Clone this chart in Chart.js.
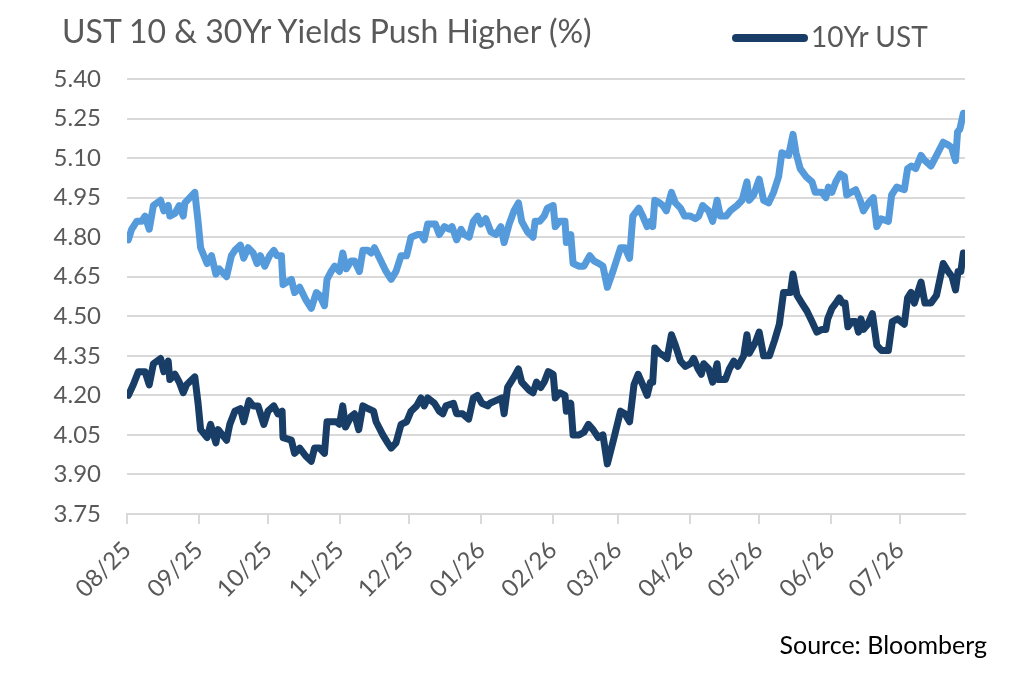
<!DOCTYPE html>
<html>
<head>
<meta charset="utf-8">
<script src="https://cdn.jsdelivr.net/npm/chart.js@4.4.1/dist/chart.umd.min.js"></script>
<style>
  body { margin: 0; background: #fff; }
  #wrap { position: relative; width: 1024px; height: 679px; overflow: hidden; font-family: Lato, "Open Sans", sans-serif; }
  #chart { position: absolute; left: 0; top: 0; }
  #title { position: absolute; left: 62px; top: 15px; font-size: 32px; line-height: 1; color: #595959; white-space: nowrap; }
  #swatch { position: absolute; left: 732px; top: 34px; width: 76px; height: 8px; border-radius: 4px; background: #183d66; }
  #legendText { position: absolute; left: 811px; top: 22px; font-size: 28px; line-height: 1; color: #595959; white-space: nowrap; }
  #source { position: absolute; right: 37px; top: 632px; font-size: 25px; line-height: 1; color: #000; white-space: nowrap; }
</style>
</head>
<body>
<div id="wrap">
  <canvas id="chart" width="1024" height="679"></canvas>
  <div id="title">UST 10 &amp; 30Yr Yields Push Higher (%)</div>
  <div id="swatch"></div>
  <div id="legendText">10Yr UST</div>
  <div id="source">Source: Bloomberg</div>
</div>
<script>
// x values are days since 1 Aug 2025
const monthLabels = ['08/25', '09/25', '10/25', '11/25', '12/25', '01/26', '02/26', '03/26', '04/26', '05/26', '06/26', '07/26'];
const monthDays = [0, 31, 61, 92, 122, 153, 184, 212, 243, 273, 304, 334];
const yTicks = [3.75, 3.90, 4.05, 4.20, 4.35, 4.50, 4.65, 4.80, 4.95, 5.10, 5.25, 5.40];

// 30Yr UST
const days30 = [0.6, 2.0, 4.2, 6.3, 7.8, 9.6, 11.4, 14.5, 15.9, 17.8, 18.5, 20.7, 22.6, 24.3, 25.0, 29.3, 30.7, 31.8, 34.6, 36.5,
  38.4, 39.8, 43.0, 45.1, 46.6, 49.0, 50.4, 52.3, 54.5, 56.2, 57.6, 59.5, 61.6, 63.4, 64.8, 66.7, 67.4, 71.0, 72.4, 74.6,
  77.4, 79.6, 81.8, 83.2, 85.3, 86.4, 88.2,
  89.7, 91.8, 93.2, 94.7, 96.8, 98.3, 100.4, 101.9, 104.0, 105.5, 106.9, 109.1, 111.9, 114.1, 116.2, 118.4, 120.8, 122.7, 125.6, 127.0,
  128.4, 129.9, 133.2, 134.9, 137.1, 139.2, 140.4, 142.4, 144.3, 145.7, 147.8, 149.6, 151.4, 152.9, 155.0, 157.2, 159.3, 161.5, 162.9, 165.1,
  167.2, 169.1, 170.5, 173.0, 175.4, 176.3, 178.3,
  180.2, 181.6, 184.1, 185.0, 186.9, 189.2, 189.8, 191.7, 192.7, 195.3, 197.4, 199.9, 201.7, 203.9, 205.6, 207.5, 209.9, 213.2, 215.1, 217.1,
  218.5, 221.1, 222.8, 224.7, 226.1, 227.1, 228.0, 230.0, 231.5, 233.0, 235.2, 236.9, 239.1, 240.9, 243.4, 245.5, 247.0, 248.7, 251.3, 253.0,
  254.9, 256.3, 258.8, 260.6, 263.5, 265.7, 267.8, 268.8,
  270.7, 273.1, 275.0, 277.2, 279.3, 281.5, 282.9, 285.8, 287.7, 289.0, 290.8, 293.3, 295.9, 297.3, 300.2, 301.9, 303.0, 304.5, 306.2, 308.1,
  309.9, 310.9, 312.8, 314.8, 316.7, 318.1, 320.3, 322.4, 323.9, 325.7, 328.9, 330.3, 332.5, 335.8, 337.2, 338.9, 340.7, 343.0, 344.7, 347.3,
  349.7, 352.6, 354.7, 356.2, 357.9, 358.8, 359.8, 361.3];
const y30 = [4.79, 4.83, 4.86, 4.86, 4.88, 4.83, 4.92, 4.94, 4.90, 4.92, 4.88, 4.89, 4.92, 4.88, 4.93, 4.97, 4.86, 4.76, 4.70, 4.73,
  4.66, 4.68, 4.65, 4.73, 4.75, 4.77, 4.72, 4.76, 4.74, 4.70, 4.73, 4.69, 4.73, 4.75, 4.73, 4.73, 4.62, 4.64, 4.59, 4.61,
  4.56, 4.53, 4.59, 4.58, 4.54, 4.64, 4.67,
  4.69, 4.67, 4.74, 4.68, 4.71, 4.71, 4.67, 4.75, 4.75, 4.74, 4.76, 4.72, 4.67, 4.64, 4.67, 4.73, 4.73, 4.80, 4.81, 4.81,
  4.79, 4.85, 4.85, 4.81, 4.84, 4.83, 4.84, 4.79, 4.83, 4.81, 4.80, 4.86, 4.88, 4.85, 4.87, 4.82, 4.81, 4.84, 4.78, 4.85,
  4.90, 4.93, 4.86, 4.82, 4.80, 4.86, 4.86,
  4.88, 4.91, 4.92, 4.84, 4.86, 4.86, 4.78, 4.81, 4.70, 4.69, 4.69, 4.73, 4.71, 4.70, 4.69, 4.61, 4.67, 4.76, 4.76, 4.72,
  4.88, 4.91, 4.88, 4.84, 4.86, 4.84, 4.94, 4.93, 4.92, 4.90, 4.97, 4.93, 4.91, 4.88, 4.88, 4.87, 4.88, 4.92, 4.90, 4.86,
  4.94, 4.88, 4.88, 4.90, 4.92, 4.94, 5.01, 4.94,
  4.96, 5.02, 4.94, 4.93, 4.97, 5.03, 5.12, 5.11, 5.19, 5.12, 5.06, 5.03, 5.01, 4.97, 4.97, 4.95, 4.99, 4.97, 5.01, 5.04,
  5.03, 4.96, 4.97, 4.98, 4.94, 4.90, 4.93, 4.95, 4.84, 4.87, 4.86, 4.96, 4.99, 4.98, 5.06, 5.07, 5.06, 5.11, 5.09, 5.07,
  5.11, 5.16, 5.15, 5.14, 5.09, 5.20, 5.21, 5.27];

// 10Yr UST
const days10 = [0.6, 2.7, 4.9, 7.8, 9.6, 11.4, 14.5, 15.9, 17.8, 18.5, 20.7, 22.6, 24.3, 25.7, 29.3, 30.7, 31.8, 34.6, 36.1, 38.4,
  39.4, 43.0, 44.4, 46.6, 49.0, 50.4, 52.7, 54.5, 56.6, 59.1, 60.9, 63.4, 65.2, 67.0, 67.4, 71.0, 72.4, 74.6, 77.2, 79.6,
  81.0, 83.2, 85.3, 86.4, 88.9,
  90.4, 91.8, 93.2, 94.4, 96.8, 98.3, 100.1, 101.9, 104.0, 106.5, 107.6, 110.5, 112.6, 114.1, 116.2, 118.4, 120.8, 122.7, 125.1, 127.0,
  128.4, 129.9, 132.8, 134.9, 136.4, 137.8, 141.0, 142.4, 145.0, 147.6, 149.6, 151.4, 153.3, 155.8, 156.8, 159.3, 161.9, 162.9, 164.4, 167.2,
  169.1, 170.5, 173.7, 175.4, 176.9, 178.7,
  180.2, 182.0, 184.1, 185.0, 186.9, 189.2, 189.8, 191.7, 192.7, 195.3, 197.4, 199.3, 201.3, 203.6, 205.6, 207.5, 210.4, 213.2, 215.1, 217.1,
  219.0, 220.8, 222.8, 224.7, 226.1, 227.1, 228.0, 230.0, 231.9, 233.3, 235.2, 236.9, 239.1, 241.2, 243.4, 244.8, 246.7, 248.1, 249.1, 251.3,
  253.0, 254.9, 255.6, 258.5, 260.2, 262.1, 263.9, 266.4, 267.8, 268.8,
  271.4, 273.1, 275.0, 277.5, 279.8, 281.8, 283.6, 286.6, 287.7, 289.4, 291.5, 293.7, 295.9, 298.0, 300.2, 301.9, 302.7, 304.5, 306.2, 307.7,
  309.1, 310.2, 311.4, 313.1, 314.8, 316.0, 317.1, 318.1, 320.0, 322.0, 323.9, 326.0, 328.9, 330.6, 332.9, 335.8, 337.2, 338.7, 340.1, 343.0,
  344.7, 347.3, 349.7, 352.6, 354.7, 356.4, 357.9, 359.0, 360.2, 361.3];
const y10 = [4.20, 4.24, 4.29, 4.29, 4.24, 4.32, 4.34, 4.29, 4.33, 4.26, 4.28, 4.25, 4.21, 4.24, 4.27, 4.17, 4.07, 4.04, 4.09, 4.02,
  4.07, 4.03, 4.09, 4.14, 4.15, 4.10, 4.18, 4.16, 4.16, 4.09, 4.14, 4.16, 4.13, 4.14, 4.04, 4.03, 3.98, 4.00, 3.97, 3.95,
  4.00, 4.00, 3.98, 4.10, 4.10,
  4.10, 4.09, 4.16, 4.08, 4.12, 4.13, 4.07, 4.16, 4.15, 4.14, 4.10, 4.05, 4.02, 4.00, 4.02, 4.09, 4.10, 4.14, 4.16, 4.19,
  4.16, 4.19, 4.17, 4.14, 4.13, 4.16, 4.17, 4.13, 4.13, 4.11, 4.19, 4.20, 4.17, 4.16, 4.17, 4.18, 4.19, 4.13, 4.23, 4.27,
  4.30, 4.25, 4.22, 4.21, 4.25, 4.23,
  4.25, 4.29, 4.28, 4.19, 4.21, 4.20, 4.14, 4.17, 4.05, 4.05, 4.06, 4.09, 4.07, 4.04, 4.05, 3.94, 4.04, 4.14, 4.13, 4.10,
  4.24, 4.28, 4.24, 4.20, 4.25, 4.25, 4.38, 4.36, 4.35, 4.34, 4.43, 4.39, 4.33, 4.31, 4.32, 4.34, 4.30, 4.28, 4.32, 4.30,
  4.25, 4.32, 4.26, 4.26, 4.30, 4.33, 4.31, 4.35, 4.43, 4.36,
  4.40, 4.44, 4.35, 4.35, 4.41, 4.47, 4.59, 4.59, 4.66, 4.58, 4.55, 4.52, 4.48, 4.44, 4.45, 4.45, 4.49, 4.53, 4.55, 4.57,
  4.55, 4.55, 4.46, 4.48, 4.48, 4.44, 4.49, 4.45, 4.47, 4.51, 4.39, 4.37, 4.37, 4.48, 4.49, 4.47, 4.57, 4.59, 4.55, 4.63,
  4.55, 4.55, 4.58, 4.70, 4.67, 4.65, 4.60, 4.67, 4.67, 4.74];

const toPoints = (xs, ys) => xs.map((x, i) => ({ x: x, y: ys[i] }));

const lineStyle = {
  borderWidth: 7,
  pointRadius: 0,
  tension: 0,
  borderJoinStyle: 'round',
  borderCapStyle: 'round'
};

new Chart(document.getElementById('chart').getContext('2d'), {
  type: 'line',
  data: {
    datasets: [
      Object.assign({ label: '30Yr UST', data: toPoints(days30, y30), borderColor: '#559bdc' }, lineStyle),
      Object.assign({ label: '10Yr UST', data: toPoints(days10, y10), borderColor: '#183d66' }, lineStyle)
    ]
  },
  options: {
    responsive: false,
    animation: false,
    layout: { padding: { top: 79, right: 59, bottom: 0, left: 0 } },
    plugins: { legend: { display: false }, tooltip: { enabled: false } },
    scales: {
      x: {
        type: 'linear',
        min: 0,
        max: 362,
        afterBuildTicks: (scale) => { scale.ticks = monthDays.map(v => ({ value: v })); },
        afterFit: (scale) => { scale.height = 165; },
        grid: { drawOnChartArea: false, drawTicks: true, tickLength: 10, color: '#d9d9d9', lineWidth: 2 },
        border: { color: '#d9d9d9', width: 2 },
        ticks: {
          autoSkip: false,
          minRotation: 45,
          maxRotation: 45,
          padding: 12,
          color: '#595959',
          font: { family: 'Lato', size: 24 },
          callback: (value) => monthLabels[monthDays.indexOf(value)]
        }
      },
      y: {
        min: 3.75,
        max: 5.40,
        afterBuildTicks: (scale) => { scale.ticks = yTicks.map(v => ({ value: v })); },
        afterFit: (scale) => { scale.width = 127; },
        grid: { color: '#d9d9d9', lineWidth: 2, drawTicks: false },
        border: { display: false },
        ticks: {
          padding: 26,
          color: '#595959',
          font: { family: 'Lato', size: 24 },
          callback: (value) => value.toFixed(2)
        }
      }
    }
  }
});
</script>
</body>
</html>
